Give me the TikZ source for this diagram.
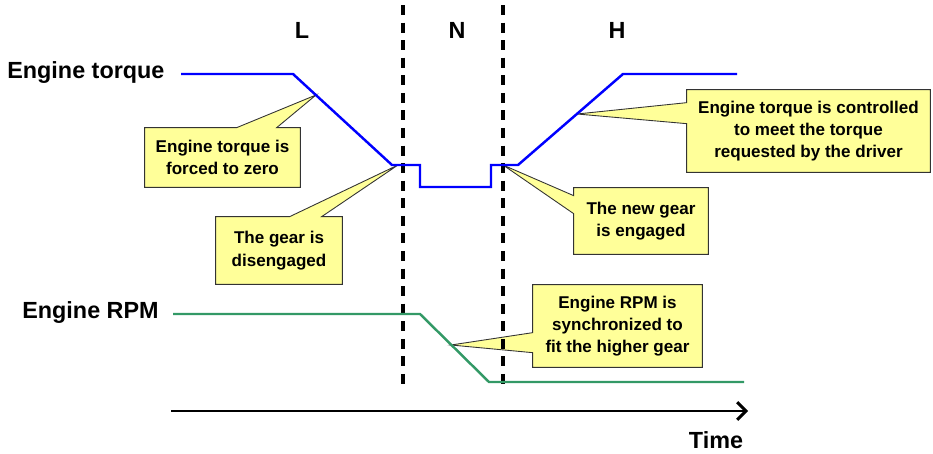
\documentclass[tikz,border=0pt]{standalone}
\usepackage{fontspec}
\setmainfont{Liberation Sans}
\usetikzlibrary{calc}
\usetikzlibrary{backgrounds}
\usetikzlibrary{arrows.meta}
\usepackage{xcolor}
\definecolor{noteyellow}{RGB}{255,255,153}
\definecolor{rpmgreen}{RGB}{51,153,102}

\begin{document}
\begin{tikzpicture}[x=0.02cm,y=-0.02cm,
  bigtext/.style={font=\fontsize{13.3}{16}\selectfont\bfseries},
  notetext/.style={font=\fontsize{9.7}{12.7}\selectfont\bfseries, align=center, inner sep=0pt},
  notebox/.style={draw=black!80, line width=0.5pt, fill=noteyellow, line join=miter},
  phaseline/.style={line width=2pt, dash pattern=on 5.7pt off 4.3pt},
  curve/.style={line width=1.4pt, line join=miter}]
\useasboundingbox (0,0) rectangle (933,453);
\node[bigtext] (lowL) at (302,30) {L};
\node[bigtext] (neutN) at (457,30) {N};
\node[bigtext] (highH) at (617,30) {H};
\node[bigtext, anchor=west, inner sep=0pt] (torque) at (7,73) {Engine torque};
\node[bigtext, anchor=west, inner sep=0pt] (rpm) at (22,313) {Engine RPM};
\node[bigtext] (time) at (716,440) {Time};
\draw[phaseline] (403,5) -- (403,385);
\draw[phaseline] (503,5) -- (503,385);
\draw[curve, blue] (181,74) -- (293,74) -- (392,165) -- (420,165) -- (420,187) -- (491,187)
  -- (491,165) -- (518,165) -- (623,74) -- (737,74);
\draw[curve, rpmgreen] (173,314) -- (420,314) -- (489,382) -- (744,382);
\coordinate (tstart) at (171,411);
\coordinate (tend) at (748,411);
\draw[line width=1.7pt, -{Straight Barb[length=5pt,width=10pt]}] (tstart) -- (tend);
\coordinate (tipforced) at (316,95);
\coordinate (tipgear) at (398,165);
\coordinate (tipcontrol) at (577,114);
\coordinate (tipnew) at (503,165);
\coordinate (tipsync) at (451,345);
\node[notetext, minimum width=3.1cm, minimum height=1.18cm] (forced) at (222.5,157.5) {Engine torque is\\forced to zero};
\node[notetext, minimum width=2.52cm, minimum height=1.34cm] (gear) at (279,250.5) {The gear is\\disengaged};
\node[notetext, minimum width=4.86cm, minimum height=1.64cm] (control) at (808.5,131) {Engine torque is controlled\\to meet the torque\\requested by the driver};
\node[notetext, minimum width=2.68cm, minimum height=1.32cm] (newgear) at (641,221) {The new gear\\is engaged};
\node[notetext, minimum width=3.38cm, minimum height=1.64cm] (sync) at (617.5,326) {Engine RPM is\\synchronized to\\fit the higher gear};
\begin{scope}[on background layer]
\draw[notebox] (forced.north west) -- ($(forced.north west)+(92,0)$) -- (tipforced)
  -- ($(forced.north west)+(132,0)$) -- (forced.north east) -- (forced.south east) -- (forced.south west) -- cycle;
\draw[notebox] (gear.north west) -- ($(gear.north west)+(74,0)$) -- (tipgear)
  -- ($(gear.north west)+(106,0)$) -- (gear.north east) -- (gear.south east) -- (gear.south west) -- cycle;
\draw[notebox] (control.north west) -- (control.north east) -- (control.south east) -- (control.south west)
  -- ($(control.north west)+(0,34)$) -- (tipcontrol) -- ($(control.north west)+(0,13)$) -- cycle;
\draw[notebox] (newgear.north west) -- (newgear.north east) -- (newgear.south east) -- (newgear.south west)
  -- ($(newgear.north west)+(0,26)$) -- (tipnew) -- ($(newgear.north west)+(0,8)$) -- cycle;
\draw[notebox] (sync.north west) -- (sync.north east) -- (sync.south east) -- (sync.south west)
  -- ($(sync.north west)+(0,68)$) -- (tipsync) -- ($(sync.north west)+(0,48)$) -- cycle;
\end{scope}
\end{tikzpicture}
\end{document}
